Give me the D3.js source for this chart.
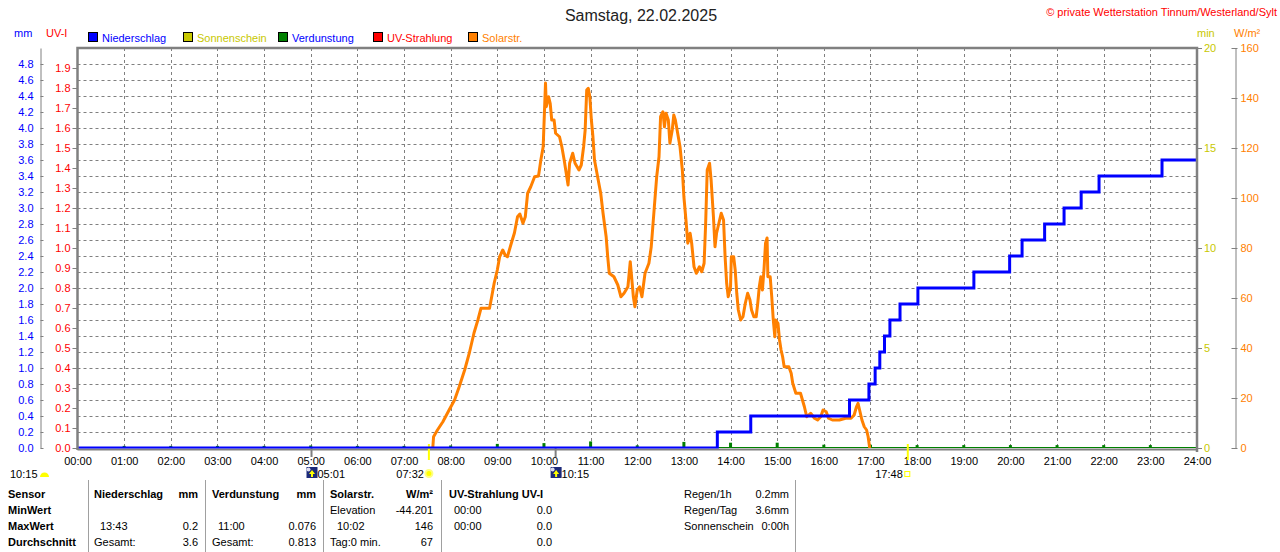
<!DOCTYPE html>
<html>
<head>
<meta charset="utf-8">
<script src="https://cdn.jsdelivr.net/npm/d3@7"></script>
<style>
body { margin: 0; background: #fff; }
svg { display: block; font-family: "Liberation Sans", Arial, sans-serif; }
</style>
</head>
<body>
<script>
// ---- data ----
var titleText = "Samstag, 22.02.2025";
var copyrightText = "\u00a9 private Wetterstation Tinnum/Westerland/Sylt";
var legendNames = ["Niederschlag", "Sonnenschein", "Verdunstung", "UV-Strahlung", "Solarstr."];

var hourLabels = ["00:00","01:00","02:00","03:00","04:00","05:00","06:00","07:00","08:00","09:00","10:00","11:00","12:00",
                  "13:00","14:00","15:00","16:00","17:00","18:00","19:00","20:00","21:00","22:00","23:00","24:00"];
var mmTicks = [0,0.2,0.4,0.6,0.8,1.0,1.2,1.4,1.6,1.8,2.0,2.2,2.4,2.6,2.8,3.0,3.2,3.4,3.6,3.8,4.0,4.2,4.4,4.6,4.8];
var uvTicks = [0,0.1,0.2,0.3,0.4,0.5,0.6,0.7,0.8,0.9,1.0,1.1,1.2,1.3,1.4,1.5,1.6,1.7,1.8,1.9];
var minTicks = [0,5,10,15,20];
var wTicks = [0,20,40,60,80,100,120,140,160];

// Niederschlag, cumulative mm (time in minutes of the day)
var rainTimes  = [0, 823, 866, 993, 1018, 1026, 1032, 1038, 1045, 1058, 1081, 1153, 1199, 1215, 1244, 1269, 1291, 1314, 1395, 1440];
var rainTotals = [0, 0.2, 0.4, 0.6, 0.8, 1.0, 1.2, 1.4, 1.6, 1.8, 2.0, 2.2, 2.4, 2.6, 2.8, 3.0, 3.2, 3.4, 3.6, 3.6];

// Solarstrahlung W/m2 (time in minutes of the day)
var solarTimes = [457,458,463,470,478,485,491,498,504,510,515,519,530,532,536,540,543,547,550,553,558,562,566,569,573,576,579,583,588,593,596,599,
  602,603,606,608,610,613,615,620,623,626,628,631,633,637,640,645,648,651,653,655,657,659,661,663,665,669,673,676,680,682,684,690,695,699,703,708,711,
  715,717,720,723,726,730,735,738,740,742,745,748,750,753,755,757,760,762,765,767,769,772,775,778,780,783,785,788,790,793,796,800,803,806,808,810,813,
  815,818,820,822,825,828,831,833,835,837,840,841,844,846,848,850,853,856,859,862,865,867,870,873,875,877,879,881,883,885,887,888,891,893,895,897,898,
  901,903,905,907,909,915,918,920,924,930,935,938,943,948,952,956,959,963,966,971,980,988,995,999,1002,1004,1006,1009,1012,1015,1017,1019];
var solarValues = [0,4.5,7.2,10.5,15.2,19.2,24.5,31.2,38,46,51.2,55.9,55.9,59.2,66,71.2,76.5,79.2,77.2,76.5,81.9,86,92.5,93.6,89.9,92.5,101.9,104.5,108.5,108.8,115.2,120.5,
  146,136.5,140.5,137.9,131.2,131.2,125.9,124.5,120.5,115.2,111.2,105.2,113.9,117.9,113.9,111.2,113.2,120.5,127.2,143.2,143.9,140.5,131.2,124.5,115.2,108.5,101.9,93.9,84.5,76.5,69.9,68.5,65.2,60.5,61.9,64.5,74.5,
  60.5,56.5,63.2,64.5,60.5,69.9,73.9,80.5,88.5,96.5,108.5,116.5,132.5,134.5,128.5,133.9,131.2,121.9,127.2,133.2,131.2,125.9,120.5,111.2,100.5,89.9,81.9,85.9,81.9,72.5,69.9,72.5,70.5,73.9,89.9,111.2,113.9,
  107.2,92.5,80.5,85.9,89.9,93.9,91.2,76.5,65.9,60.5,64.5,76.5,76.5,71.2,61.9,55.2,51.2,52.5,57.9,61.9,59.2,55.2,52.5,52.5,57.9,64.5,68.5,63.2,71.2,81.9,84,68.5,68.5,60.5,51.2,44.5,51.2,
  49.9,43.2,39.2,36.5,32.5,32.5,29.9,25.9,21.9,21.9,16.5,12.5,13.9,11.9,11.2,12.5,15.2,14.5,11.9,11.2,11.2,11.9,11.9,13.2,16.5,17.9,15.2,11.2,8.5,7.2,4.5,0];

// Verdunstung per hour, mm
var evapHours  = [1,2,3,4,5,6,7,8,9,10,11,12,13,14,15,16,17,18,19,20,21,22,23];
var evapValues = [0.02,0.02,0.02,0.02,0.025,0.02,0.02,0.025,0.045,0.055,0.076,0.027,0.07,0.06,0.06,0.035,0.035,0.03,0.03,0.03,0.03,0.03,0.03];

// sun / moon events (minutes of day)
var sunrise = 452, sunset = 1068, moonrise = 301, moonset = 615;
var sunriseLabel = "07:32", sunsetLabel = "17:48", moonriseLabel = "05:01", moonsetLabel = "10:15", dayLengthLabel = "10:15";

// table below the chart
var rowNames = ["Sensor", "MinWert", "MaxWert", "Durchschnitt"];
var tableCols = [
  {head: "Niederschlag", unit: "mm", rows: [["", ""], ["13:43", "0.2"], ["Gesamt:", "3.6"]]},
  {head: "Verdunstung", unit: "mm", rows: [["", ""], ["11:00", "0.076"], ["Gesamt:", "0.813"]]},
  {head: "Solarstr.", unit: "W/m\u00b2", rows: [["Elevation", "-44.201"], ["10:02", "146"], ["Tag:0 min.", "67"]]},
  {head: "UV-Strahlung UV-I", unit: "", rows: [["00:00", "0.0"], ["00:00", "0.0"], ["", "0.0"]]}
];
var summaryNames = ["Regen/1h", "Regen/Tag", "Sonnenschein"];
var summaryValues = ["0.2mm", "3.6mm", "0:00h"];

// ---- drawing ----
var width = 1280, height = 552;
var pLeft = 77.5, pRight = 1197, pTop = 48, pBottom = 448;
var BLUE = "#0000ff", RED = "#ff0000", GREEN = "#008000", ORANGE = "#ff8000", YEL = "#c8c800", GRAY = "#808080";

var svg = d3.select("body").append("svg")
  .attr("width", width).attr("height", height);

svg.append("defs").append("clipPath").attr("id", "plotclip")
  .append("rect").attr("x", pLeft).attr("y", pTop).attr("width", pRight - pLeft).attr("height", pBottom - pTop + 0.5);

var x = d3.scaleLinear().domain([0, 1440]).range([pLeft, pRight]);
var yMm = d3.scaleLinear().domain([0, 5]).range([pBottom, pTop]);
var yUv = d3.scaleLinear().domain([0, 2]).range([pBottom, pTop]);
var yMin = d3.scaleLinear().domain([0, 20]).range([pBottom, pTop]);
var yW = d3.scaleLinear().domain([0, 160]).range([pBottom, pTop]);

// title + copyright
svg.append("text").attr("x", 641).attr("y", 21).attr("text-anchor", "middle")
  .style("font-size", "16px").attr("fill", "#222").text(titleText);
svg.append("text").attr("x", 1277).attr("y", 16).attr("text-anchor", "end")
  .style("font-size", "11px").attr("fill", RED).text(copyrightText);

// axis unit labels
svg.append("text").attr("x", 14).attr("y", 37).style("font-size", "11px").attr("fill", BLUE).text("mm");
svg.append("text").attr("x", 46).attr("y", 37).style("font-size", "11px").attr("fill", RED).text("UV-I");
svg.append("text").attr("x", 1197).attr("y", 37).style("font-size", "11px").attr("fill", YEL).text("min");
svg.append("text").attr("x", 1234).attr("y", 37).style("font-size", "11px").attr("fill", ORANGE).text("W/m\u00b2");

// legend
var legendFill = [BLUE, YEL, GREEN, RED, ORANGE];
var legendText = [BLUE, YEL, BLUE, RED, ORANGE];
var legendX = [88, 183, 278, 373, 468];
var legend = svg.selectAll(".legend").data(legendNames).enter().append("g")
  .attr("transform", function(d, i){ return "translate(" + legendX[i] + ",32)"; });
legend.append("rect").attr("x", 0.5).attr("y", 0.5).attr("width", 9).attr("height", 9)
  .attr("fill", function(d, i){ return legendFill[i]; }).attr("stroke", "#000");
legend.append("text").attr("x", 14).attr("y", 9.5).style("font-size", "11px")
  .attr("fill", function(d, i){ return legendText[i]; }).text(function(d){ return d; });

// grid
var grid = svg.append("g").attr("stroke", GRAY).attr("stroke-dasharray", "3,3").attr("stroke-width", 1);
grid.selectAll(".h").data(mmTicks.slice(1)).enter().append("line")
  .attr("x1", pLeft).attr("x2", pRight)
  .attr("y1", function(d){ return Math.round(yMm(d)) + 0.5; })
  .attr("y2", function(d){ return Math.round(yMm(d)) + 0.5; });
grid.selectAll(".v").data(hourLabels.slice(1, 24)).enter().append("line")
  .attr("y1", pTop).attr("y2", pBottom)
  .attr("x1", function(d, i){ return Math.round(x((i + 1) * 60)) + 0.5; })
  .attr("x2", function(d, i){ return Math.round(x((i + 1) * 60)) + 0.5; });

// axes
function styleAxis(g, color) {
  g.selectAll("text").attr("fill", color).style("font-size", "11px").style("font-family", "Liberation Sans, Arial, sans-serif");
  g.selectAll("line").attr("stroke", GRAY);
  g.select(".domain").attr("stroke", GRAY);
}
var mmAxis = svg.append("g").attr("transform", "translate(40.5,0)")
  .call(d3.axisLeft(yMm).tickValues(mmTicks).tickFormat(d3.format(".1f")).tickSize(4).tickSizeOuter(0).tickPadding(3));
styleAxis(mmAxis, BLUE);
mmAxis.selectAll(".tick line").attr("x2", 3);

var uvAxis = svg.append("g").attr("transform", "translate(" + pLeft + ",0)")
  .call(d3.axisLeft(yUv).tickValues(uvTicks).tickFormat(d3.format(".1f")).tickSize(5).tickSizeOuter(0).tickPadding(2));
styleAxis(uvAxis, RED);
uvAxis.select(".domain").remove();

var minAxis = svg.append("g").attr("transform", "translate(" + pRight + ",0)")
  .call(d3.axisRight(yMin).tickValues(minTicks).tickSize(5).tickSizeOuter(0).tickPadding(2));
styleAxis(minAxis, YEL);
minAxis.select(".domain").remove();

var wAxis = svg.append("g").attr("transform", "translate(1235.5,0)")
  .call(d3.axisRight(yW).tickValues(wTicks).tickSize(2).tickSizeOuter(0).tickPadding(3));
styleAxis(wAxis, ORANGE);
wAxis.selectAll(".tick line").attr("x1", -4);

var xAxis = svg.append("g").attr("transform", "translate(0," + pBottom + ")")
  .call(d3.axisBottom(x).tickValues(d3.range(0, 1441, 60)).tickFormat(function(d, i){ return hourLabels[i]; })
    .tickSize(0).tickPadding(9));
styleAxis(xAxis, "#000");
xAxis.select(".domain").remove();

// baseline
svg.append("line").attr("x1", pLeft).attr("x2", pRight).attr("y1", 449.5).attr("y2", 449.5)
  .attr("stroke", GRAY).attr("stroke-width", 2);
svg.append("line").attr("x1", pLeft).attr("x2", pRight).attr("y1", 447.5).attr("y2", 447.5)
  .attr("stroke", GREEN).attr("stroke-width", 1);

// Verdunstung bars
svg.selectAll(".evap").data(evapHours).enter().append("rect")
  .attr("x", function(d){ return x(d * 60) - 1.5; })
  .attr("width", 3)
  .attr("y", function(d, i){ return yMm(evapValues[i]) - 0.5; })
  .attr("height", function(d, i){ return pBottom - yMm(evapValues[i]); })
  .attr("fill", GREEN);

// sun / moon marker ticks
[moonrise, moonset].forEach(function(t){
  svg.append("line").attr("x1", x(t)).attr("x2", x(t)).attr("y1", 447).attr("y2", 457)
    .attr("stroke", GRAY).attr("stroke-width", 2);
});
[sunrise, sunset].forEach(function(t){
  svg.append("line").attr("x1", x(t)).attr("x2", x(t)).attr("y1", 444).attr("y2", 460)
    .attr("stroke", "#ffff00").attr("stroke-width", 2);
});

// Solarstrahlung
var solarLine = d3.line()
  .x(function(d){ return x(d); })
  .y(function(d, i){ return yW(solarValues[i]); });
svg.append("path").datum(solarTimes).attr("d", solarLine).attr("clip-path", "url(#plotclip)")
  .attr("fill", "none").attr("stroke", ORANGE).attr("stroke-width", 3).attr("stroke-linejoin", "round");

// Niederschlag
var rainLine = d3.line().curve(d3.curveStepAfter)
  .x(function(d){ return x(d); })
  .y(function(d, i){ return yMm(rainTotals[i]); });
svg.append("path").datum(rainTimes).attr("d", rainLine).attr("clip-path", "url(#plotclip)")
  .attr("fill", "none").attr("stroke", BLUE).attr("stroke-width", 3);

// frame
svg.append("path").attr("d", "M" + pLeft + "," + (pBottom + 2) + "V" + pTop + "H" + pRight + "V" + (pBottom + 4))
  .attr("fill", "none").attr("stroke", GRAY).attr("stroke-width", 2.5);

// sun / moon row
var evY = 478;
svg.append("text").attr("x", 10).attr("y", evY).style("font-size", "11px").text(dayLengthLabel);
svg.append("path").attr("d", "M40,477 a4.5,4.5 0 0 1 9,0 z").attr("fill", "#ffff00");
function moonIcon(cx) {
  svg.append("rect").attr("x", cx - 5).attr("y", 467).attr("width", 11).attr("height", 11).attr("fill", "#1c2a7a");
  svg.append("circle").attr("cx", cx - 3).attr("cy", 469.5).attr("r", 2).attr("fill", "#dde");
  svg.append("path").attr("d", "M" + (cx + 0.5) + ",470 l3,4 h-2 v3 h-2 v-3 h-2 z").attr("fill", "#ffff00");
}
moonIcon(x(moonrise));
svg.append("text").attr("x", x(moonrise) + 6).attr("y", evY).style("font-size", "11px").text(moonriseLabel);
moonIcon(x(moonset));
svg.append("text").attr("x", x(moonset) + 6).attr("y", evY).style("font-size", "11px").text(moonsetLabel);
svg.append("text").attr("x", x(sunrise) - 5).attr("y", evY).attr("text-anchor", "end").style("font-size", "11px").text(sunriseLabel);
svg.append("circle").attr("cx", x(sunrise)).attr("cy", 473.5).attr("r", 3.5).attr("fill", "#ffff00")
  .attr("stroke", "#ffff80").attr("stroke-width", 2);
svg.append("text").attr("x", x(sunset) - 5).attr("y", evY).attr("text-anchor", "end").style("font-size", "11px").text(sunsetLabel);
svg.append("rect").attr("x", x(sunset) - 3).attr("y", 471.5).attr("width", 5).attr("height", 5)
  .attr("fill", "none").attr("stroke", "#ffff00");

// table
var rowY = [498, 514, 530, 546];
var sepX = [88.5, 205.5, 323.5, 441.5, 795.5];
sepX.forEach(function(sx){
  svg.append("line").attr("x1", sx).attr("x2", sx).attr("y1", 480).attr("y2", height).attr("stroke", "#a0a0a0");
});
svg.selectAll(".rowname").data(rowNames).enter().append("text")
  .attr("x", 8).attr("y", function(d, i){ return rowY[i]; })
  .style("font-size", "11px").style("font-weight", "bold").text(function(d){ return d; });

var colLeft = [94, 212, 330, 449];
var colRight = [198, 316, 433, 552];
var colIndent = [6, 6, 0, 5];
tableCols.forEach(function(c, ci){
  svg.append("text").attr("x", colLeft[ci]).attr("y", rowY[0]).style("font-size", "11px").style("font-weight", "bold").text(c.head);
  svg.append("text").attr("x", colRight[ci]).attr("y", rowY[0]).attr("text-anchor", "end")
    .style("font-size", "11px").style("font-weight", "bold").text(c.unit);
  c.rows.forEach(function(r, ri){
    var ind = (r[0].indexOf(":") === 2) ? colIndent[ci] : 0;
    if (ci === 2 && ri === 1) ind = 7;
    svg.append("text").attr("x", colLeft[ci] + ind).attr("y", rowY[ri + 1]).style("font-size", "11px").text(r[0]);
    svg.append("text").attr("x", colRight[ci]).attr("y", rowY[ri + 1]).attr("text-anchor", "end").style("font-size", "11px").text(r[1]);
  });
});
summaryNames.forEach(function(n, i){
  svg.append("text").attr("x", 684).attr("y", rowY[i]).style("font-size", "11px").text(n);
  svg.append("text").attr("x", 789).attr("y", rowY[i]).attr("text-anchor", "end").style("font-size", "11px").text(summaryValues[i]);
});
</script>
</body>
</html>
